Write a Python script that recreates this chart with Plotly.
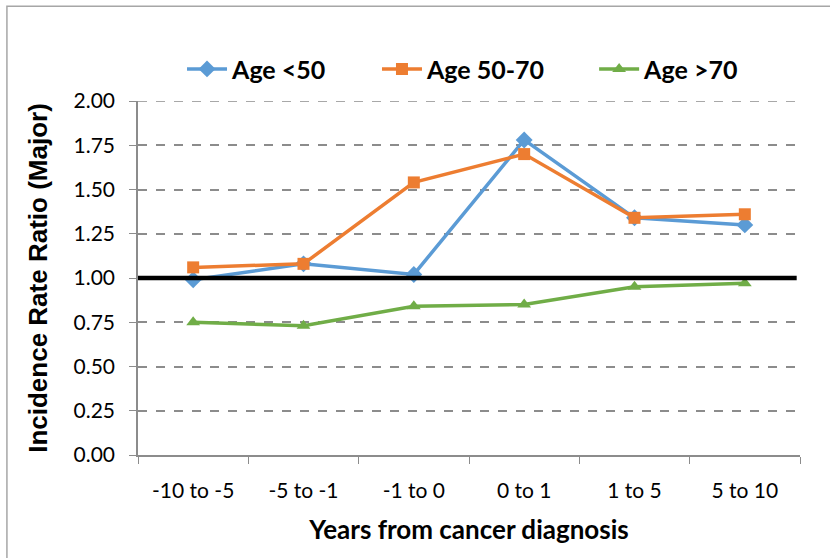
import plotly.graph_objects as go

categories = ["-10 to -5", "-5 to -1", "-1 to 0", "0 to 1", "1 to 5", "5 to 10"]
age_lt50 = [0.99, 1.08, 1.02, 1.78, 1.34, 1.30]
age_50_70 = [1.06, 1.08, 1.54, 1.70, 1.34, 1.36]
age_gt70 = [0.75, 0.73, 0.84, 0.85, 0.95, 0.97]
y_ticks = [0, 0.25, 0.5, 0.75, 1.0, 1.25, 1.5, 1.75, 2.0]
y_tick_text = ["0.00", "0.25", "0.50", "0.75", "1.00", "1.25", "1.50", "1.75", "2.00"]

fig = go.Figure()
series = [
    ("Age <50", age_lt50, "#5B9BD5", "diamond", 13, "legend", 0.0665),
    ("Age 50-70", age_50_70, "#ED7D31", "square", 12, "legend2", 0.361),
    ("Age >70", age_gt70, "#70AD47", "triangle-up", 12, "legend3", 0.689),
]
legend_font = dict(family="Lato", size=25, color="black", weight="bold")
legends = {}
for name, vals, col, sym, sz, lg, lx in series:
    fig.add_trace(go.Scatter(
        x=categories, y=vals, name=name, mode="lines+markers",
        line=dict(color=col, width=3.5),
        marker=dict(symbol=sym, size=sz, color=col),
        legend=lg,
    ))
    legends[lg] = dict(orientation="h", x=lx, xanchor="left", y=1.09, yanchor="middle",
                       font=legend_font, itemwidth=40, bgcolor="rgba(0,0,0,0)")

# reference line at 1.0
fig.add_shape(type="line", xref="paper", yref="y", x0=0, x1=0.995, y0=1, y1=1,
              line=dict(color="black", width=4.5), layer="above")
# top gridline at 2.00
fig.add_shape(type="line", xref="paper", yref="y", x0=0, x1=0.995, y0=2, y1=2,
              line=dict(color="#8C8C8C", width=1.5, dash="dash"), layer="below")
# outer chart border
fig.add_shape(type="rect", xref="paper", yref="paper",
              x0=-0.198, x1=1.06, y0=-0.32, y1=1.268,
              line=dict(color="#A6A6A6", width=1.5), layer="below")

fig.update_layout(
    width=830, height=558,
    margin=dict(l=138, r=30, t=101, b=103, autoexpand=False),
    paper_bgcolor="white", plot_bgcolor="white",
    font=dict(family="Lato", color="black"),
    showlegend=True,
    xaxis=dict(
        type="category", range=[-0.5, 5.5], automargin=False,
        showline=True, linecolor="#8C8C8C", linewidth=1.5,
        ticks="outside", tickson="boundaries", ticklen=7, tickcolor="#8C8C8C",
        ticklabelstandoff=16,
        showgrid=False, tickfont=dict(family="Lato", size=21),
        title=dict(text="Years from cancer diagnosis", standoff=20,
                   font=dict(family="Lato", size=26, weight="bold")),
    ),
    yaxis=dict(
        range=[0, 2.0], tickvals=y_ticks, ticktext=y_tick_text, automargin=False,
        showline=True, linecolor="#8C8C8C", linewidth=1.5,
        ticks="outside", ticklen=7, tickcolor="#8C8C8C",
        ticklabelstandoff=10,
        showgrid=True, gridcolor="#8C8C8C", griddash="dash", gridwidth=1.5,
        zeroline=False, tickfont=dict(family="Lato", size=21),
        title=dict(text="Incidence Rate Ratio (Major)", standoff=18,
                   font=dict(family="Liberation Sans", size=26, weight="bold")),
    ),
    **legends,
)

fig.write_html("out.html", config={"displayModeBar": False},
               post_script="document.body.style.margin='0';")
